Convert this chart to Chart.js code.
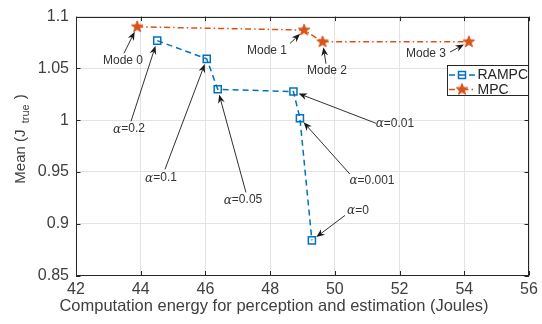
<!DOCTYPE html>
<html>
<head>
<meta charset="utf-8">
<script src="https://cdn.jsdelivr.net/npm/chart.js@4"></script>
<style>
  html, body { margin: 0; padding: 0; background: #ffffff; }
  #wrap { width: 542px; height: 324px; }
</style>
</head>
<body>
<div id="wrap"><canvas id="c" width="542" height="324"></canvas></div>
<script>
// ---- data ----
const rampcLabels = ['α=0.2', 'α=0.1', 'α=0.05', 'α=0.01', 'α=0.001', 'α=0'];
const rampcEnergy = [44.51, 46.04, 46.38, 48.72, 48.92, 49.29];
const rampcMean   = [1.0768, 1.0592, 1.0298, 1.0276, 1.0019, 0.8839];

const mpcLabels = ['Mode 0', 'Mode 1', 'Mode 2', 'Mode 3'];
const mpcEnergy = [43.89, 49.05, 49.62, 54.14];
const mpcMean   = [1.0901, 1.0870, 1.0756, 1.0756];

const xTicks = [42, 44, 46, 48, 50, 52, 54, 56];
const yTicks = [0.85, 0.9, 0.95, 1, 1.05, 1.1];

const xTitle = 'Computation energy for perception and estimation (Joules)';
const yTitleMain = 'Mean (J';
const yTitleSub = 'true';
const yTitleEnd = ')';

// ---- annotation layout (label position and arrow tail, in axis units) ----
const annotations = [
  { ds: 1, i: 0, tx: 43.452, ty: 1.0573, ax: 43.483, ay: 1.0647 },
  { ds: 1, i: 1, tx: 47.902, ty: 1.0675, ax: 48.613, ay: 1.0740 },
  { ds: 1, i: 2, tx: 49.757, ty: 1.0480, ax: 49.726, ay: 1.0545 },
  { ds: 1, i: 3, tx: 52.816, ty: 1.0638, ax: 53.558, ay: 1.0657 },
  { ds: 0, i: 0, tx: 43.638, ty: 0.9915, ax: 43.700, ay: 0.9989 },
  { ds: 0, i: 1, tx: 44.627, ty: 0.9442, ax: 44.750, ay: 0.9525 },
  { ds: 0, i: 2, tx: 47.161, ty: 0.9228, ax: 47.253, ay: 0.9302 },
  { ds: 0, i: 3, tx: 51.858, ty: 0.9970, ax: 51.270, ay: 0.9970 },
  { ds: 0, i: 4, tx: 51.147, ty: 0.9414, ax: 50.465, ay: 0.9479 },
  { ds: 0, i: 5, tx: 50.715, ty: 0.9126, ax: 50.313, ay: 0.9080 }
];

const BLUE = '#0072BD';
const ORANGE = '#D95319';
const AXIS = '#262626';
const TXT = '#404040';
const FONT = '"Liberation Sans", Arial, Helvetica, sans-serif';

// pentagram marker
function makeStar(r, color) {
  const s = Math.ceil(r * 2 + 4);
  const cv = document.createElement('canvas');
  cv.width = s; cv.height = s;
  const g = cv.getContext('2d');
  const cx = s / 2, cy = s / 2, ri = r * 0.42;
  g.beginPath();
  for (let k = 0; k < 10; k++) {
    const rr = (k % 2 === 0) ? r : ri;
    const a = -Math.PI / 2 + k * Math.PI / 5;
    const px = cx + rr * Math.cos(a), py = cy + rr * Math.sin(a);
    if (k === 0) g.moveTo(px, py); else g.lineTo(px, py);
  }
  g.closePath();
  g.fillStyle = color; g.fill();
  g.lineWidth = 1; g.strokeStyle = color; g.stroke();
  return cv;
}
const starImg = makeStar(6, ORANGE);

const PLOT = { left: 76, right: 529, top: 6, bottom: 275.5 };

const decor = {
  id: 'decor',
  afterDatasetsDraw(chart) {
    const ctx = chart.ctx;
    const xs = chart.scales.x, ys = chart.scales.y;
    const ca = chart.chartArea;
    ctx.save();
    // box
    ctx.strokeStyle = AXIS; ctx.lineWidth = 1;
    ctx.strokeRect(Math.round(ca.left) + 0.5, Math.round(ca.top) + 0.5,
      Math.round(ca.right - ca.left) - 1, Math.round(ca.bottom - ca.top) - 1);
    // inward ticks
    ctx.beginPath();
    const tl = 4.5;
    xTicks.forEach(v => {
      const px = Math.round(xs.getPixelForValue(v)) + 0.5;
      ctx.moveTo(px, ca.bottom); ctx.lineTo(px, ca.bottom - tl);
      ctx.moveTo(px, ca.top); ctx.lineTo(px, ca.top + tl);
    });
    yTicks.forEach(v => {
      const py = Math.round(ys.getPixelForValue(v)) + 0.5;
      ctx.moveTo(ca.left, py); ctx.lineTo(ca.left + tl, py);
      ctx.moveTo(ca.right, py); ctx.lineTo(ca.right - tl, py);
    });
    ctx.stroke();

    // annotations
    ctx.strokeStyle = '#1a1a1a'; ctx.fillStyle = '#1a1a1a'; ctx.lineWidth = 0.9;
    annotations.forEach(a => {
      const meta = chart.getDatasetMeta(a.ds);
      const el = meta.data[a.i];
      const px = el.x, py = el.y;
      const tx = xs.getPixelForValue(a.ax), ty = ys.getPixelForValue(a.ay);
      const dx = px - tx, dy = py - ty;
      const L = Math.hypot(dx, dy);
      const ux = dx / L, uy = dy / L;
      const tipX = px - ux * 5.5, tipY = py - uy * 5.5;
      const hl = 8.5, hw = 3.4;
      const bx = tipX - ux * hl, by = tipY - uy * hl;
      const nx = tipX - ux * hl * 0.7, ny = tipY - uy * hl * 0.7;
      ctx.beginPath();
      ctx.moveTo(tx, ty); ctx.lineTo(nx, ny);
      ctx.stroke();
      ctx.beginPath();
      ctx.moveTo(tipX, tipY);
      ctx.lineTo(bx - uy * hw, by + ux * hw);
      ctx.lineTo(nx, ny);
      ctx.lineTo(bx + uy * hw, by - ux * hw);
      ctx.closePath();
      ctx.fill();

      // label
      const label = chart.data.datasets[a.ds].pointLabels[a.i];
      const lx = xs.getPixelForValue(a.tx), ly = ys.getPixelForValue(a.ty);
      ctx.textBaseline = 'middle';
      ctx.fillStyle = '#333333';
      if (label.startsWith('α')) {
        const rest = label.slice(1);
        const fa = 'italic 12px "DejaVu Serif", serif';
        const fr = '12px ' + FONT;
        ctx.font = fa; const wa = ctx.measureText('α').width;
        ctx.font = fr; const wr = ctx.measureText(rest).width;
        const x0 = lx - (wa + wr) / 2;
        ctx.font = fa; ctx.textAlign = 'left'; ctx.fillText('α', x0, ly + 0.5);
        ctx.font = fr; ctx.fillText(rest, x0 + wa, ly);
      } else {
        ctx.font = '12px ' + FONT; ctx.textAlign = 'center';
        ctx.fillText(label, lx, ly);
      }
      ctx.fillStyle = '#1a1a1a';
    });

    // legend
    const lg = { l: 447, t: 65, r: 529, b: 96 };
    ctx.fillStyle = '#ffffff';
    ctx.fillRect(lg.l, lg.t, lg.r - lg.l, lg.b - lg.t);
    ctx.strokeStyle = AXIS; ctx.lineWidth = 1;
    ctx.strokeRect(lg.l + 0.5, lg.t + 0.5, lg.r - lg.l - 1, lg.b - lg.t - 1);
    const rows = [75, 89.5];
    chart.data.datasets.forEach((d, k) => {
      const y = rows[k];
      ctx.strokeStyle = d.borderColor; ctx.lineWidth = 1.5;
      ctx.setLineDash(d.borderDash);
      ctx.beginPath(); ctx.moveTo(449, y); ctx.lineTo(475, y); ctx.stroke();
      ctx.setLineDash([]);
      if (k === 0) {
        ctx.lineWidth = 1.5;
        ctx.strokeRect(458.5, y - 3.5, 7, 7);
      } else {
        ctx.drawImage(starImg, 462 - starImg.width / 2, y - starImg.height / 2);
      }
      ctx.fillStyle = '#262626';
      ctx.font = '14px ' + FONT; ctx.textAlign = 'left'; ctx.textBaseline = 'middle';
      ctx.fillText(d.label, 477.5, y + 0.5);
    });

    // axis titles
    ctx.fillStyle = TXT;
    ctx.font = '16.5px ' + FONT; ctx.textAlign = 'center'; ctx.textBaseline = 'middle';
    ctx.fillText(xTitle, 274, 306);

    ctx.save();
    ctx.translate(20, 141);
    ctx.rotate(-Math.PI / 2);
    const fm = '15px ' + FONT, fs = '11px ' + FONT;
    ctx.font = fm; const w1 = ctx.measureText(yTitleMain + ' ').width;
    ctx.font = fs; const w2 = ctx.measureText(yTitleSub + ' ').width;
    ctx.font = fm; const w3 = ctx.measureText(yTitleEnd).width;
    let x0 = -(w1 + w2 + w3) / 2;
    ctx.textAlign = 'left'; ctx.textBaseline = 'alphabetic';
    ctx.font = fm; ctx.fillText(yTitleMain, x0, 5);
    ctx.font = fs; ctx.fillText(yTitleSub, x0 + w1 + 2, 9);
    ctx.font = fm; ctx.fillText(yTitleEnd, x0 + w1 + w2 + 4, 5);
    ctx.restore();

    ctx.restore();
  }
};

new Chart(document.getElementById('c'), {
  type: 'scatter',
  data: {
    datasets: [
      {
        label: 'RAMPC',
        data: rampcEnergy.map((x, i) => ({ x, y: rampcMean[i] })),
        pointLabels: rampcLabels,
        showLine: true,
        borderColor: BLUE,
        backgroundColor: 'rgba(0,0,0,0)',
        borderWidth: 1.5,
        borderDash: [6, 4],
        pointStyle: 'rect',
        pointRadius: 5,
        pointBorderWidth: 1.5,
        pointBorderColor: BLUE,
        pointBackgroundColor: 'rgba(0,0,0,0)',
        tension: 0
      },
      {
        label: 'MPC',
        data: mpcEnergy.map((x, i) => ({ x, y: mpcMean[i] })),
        pointLabels: mpcLabels,
        showLine: true,
        borderColor: ORANGE,
        backgroundColor: ORANGE,
        borderWidth: 1.5,
        borderDash: [6, 3, 1.5, 3],
        pointStyle: starImg,
        pointRadius: 6,
        tension: 0
      }
    ]
  },
  options: {
    responsive: false,
    animation: false,
    events: [],
    layout: { padding: { top: PLOT.top, right: 542 - PLOT.right, left: 0, bottom: 0 } },
    plugins: { legend: { display: false }, tooltip: { enabled: false } },
    scales: {
      x: {
        type: 'linear', min: 42, max: 56,
        afterBuildTicks: s => { s.ticks = xTicks.map(v => ({ value: v })); },
        afterFit: s => { s.height = 324 - PLOT.bottom; },
        ticks: {
          color: TXT, font: { family: FONT, size: 16 }, padding: 4,
          maxRotation: 0, autoSkip: false,
          callback: v => String(v)
        },
        grid: { color: '#e3e3e3', lineWidth: 1, drawTicks: false },
        border: { display: false }
      },
      y: {
        type: 'linear', min: 0.85, max: 1.1,
        afterBuildTicks: s => { s.ticks = yTicks.map(v => ({ value: v })); },
        afterFit: s => { s.width = PLOT.left; },
        ticks: {
          color: TXT, font: { family: FONT, size: 16 }, padding: 7,
          autoSkip: false,
          callback: v => String(Number(v.toFixed(2)))
        },
        grid: { color: '#e3e3e3', lineWidth: 1, drawTicks: false },
        border: { display: false }
      }
    }
  },
  plugins: [decor]
});
</script>
</body>
</html>
